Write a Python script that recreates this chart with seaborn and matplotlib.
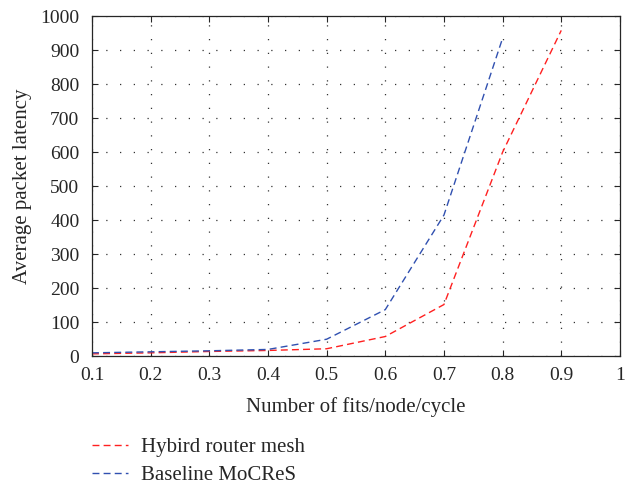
import numpy as np
import pandas as pd
import matplotlib
matplotlib.use("Agg")
import matplotlib.pyplot as plt
import seaborn as sns
from matplotlib.lines import Line2D

load_hybrid = [0.1, 0.2, 0.3, 0.4, 0.5, 0.6, 0.7, 0.8, 0.9]
latency_hybrid = [7, 10, 14, 17, 22, 58, 152, 600, 958]
load_baseline = [0.1, 0.2, 0.3, 0.4, 0.5, 0.6, 0.7, 0.8]
latency_baseline = [10, 13, 16, 20, 50, 137, 415, 935]
series_names = ["Hybird router mesh", "Baseline MoCReS"]
colors = ["#ff2020", "#3050b0"]

df = pd.concat([
    pd.DataFrame({"load": load_hybrid, "latency": latency_hybrid, "series": series_names[0]}),
    pd.DataFrame({"load": load_baseline, "latency": latency_baseline, "series": series_names[1]}),
])

sns.set_style("ticks")
plt.rcParams['font.family'] = ['Liberation Serif', 'DejaVu Serif']

fig = plt.figure(figsize=(6.3, 4.88), dpi=100)
ax = fig.add_axes([0.146, 0.270, 0.838, 0.697])

dash = (5, 3)
sns.lineplot(data=df, x="load", y="latency", hue="series", style="series",
             palette=colors, dashes=[dash, dash],
             linewidth=1.0, ax=ax, legend=False)

ax.set_xlim(0.1, 1.0)
ax.set_ylim(0, 1000)
ax.set_xticks(np.arange(0.1, 1.01, 0.1))
ax.set_xticklabels(["0.1", "0.2", "0.3", "0.4", "0.5", "0.6", "0.7", "0.8", "0.9", "1"])
ax.set_yticks(np.arange(0, 1001, 100))
ax.tick_params(direction="in", top=True, right=True, labelsize=14, length=4, width=0.8)
ax.tick_params(axis="x", pad=8)
ax.tick_params(axis="y", pad=9)
ax.grid(True, linestyle=(0, (1, 10)), color="#333333", linewidth=0.9)
for s in ax.spines.values():
    s.set_linewidth(0.9)
    s.set_visible(True)

ax.set_xlabel("Number of fits/node/cycle", fontsize=15, labelpad=9)
ax.set_ylabel("Average packet latency", fontsize=15, labelpad=6)

handles = [Line2D([], [], color=c, linestyle=(0, dash), linewidth=1.0) for c in colors]
fig.legend(handles, series_names, loc="lower left", bbox_to_anchor=(0.146, 0.006),
           frameon=False, fontsize=15, handlelength=1.75, handletextpad=0.6,
           labelspacing=0.4, borderpad=0, borderaxespad=0)

fig.savefig("out.png", dpi=100)
